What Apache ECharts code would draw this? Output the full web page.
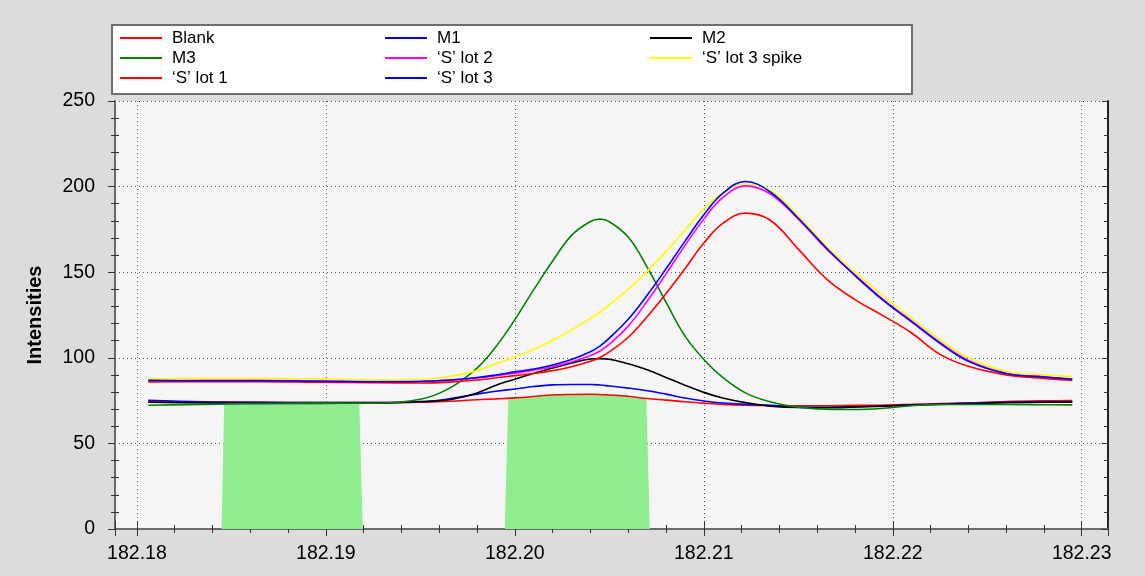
<!DOCTYPE html>
<html>
<head>
<meta charset="utf-8">
<script src="https://cdn.jsdelivr.net/npm/echarts@6/dist/echarts.min.js"></script>
<style>
html,body{margin:0;padding:0;background:#dcdcdc;}
#chart{width:1145px;height:576px;}
</style>
</head>
<body>
<div id="chart"></div>
<script>
// ---- data ----
const masses = [182.1806, 182.1835, 182.1865, 182.1895, 182.1925, 182.1950, 182.1965, 182.1980, 182.1990, 182.2000,
  182.2010, 182.2020, 182.2030, 182.2040, 182.2045, 182.2050, 182.2060, 182.2070, 182.2080, 182.2090,
  182.2100, 182.2110, 182.2122, 182.2135, 182.2150, 182.2165, 182.2180, 182.2195, 182.2210, 182.2225,
  182.2240, 182.2260, 182.2280, 182.2295];

const blank = [74.5,74.2,74,73.8,73.8, 74,74.6,75.5,76,76.6, 77.4,78.3,78.6,78.7,78.6, 78.3,77.5,76.2,75.3,74.3,
  73.5,72.8,72.3,72.1,72, 72,72.2,72.4,72.8,73.3, 73.7,74.5,74.9,75];
const m1 = [75.2,74.3,74,73.8,73.8, 74.3,76,78.8,80.5,81.8, 83.2,84.2,84.4,84.4,84.1, 83.5,82.3,80.8,78.8,76.5,
  74.8,73.6,72.8,72.2,71.2, 71,71.3,71.8,72.5,73, 73.5,74,74.2,74.3];
const m2 = [74,73.6,73.4,73.4,73.5, 74.5,75.5,79.5,84,87.5, 91,94,97,99.3,99.5, 99.2,96.5,93,88.5,84,
  79.8,76.5,73.8,71.8,71, 71,71.3,71.8,72.3,72.8, 73.2,73.8,74,74];
const m3 = [72.3,72.8,73.3,73.5,73.5, 75.8,82,94,106.5,122.3, 139.8,156.5,171.5,179.6,181, 179.5,170.5,153,132.5,112.8,
  99,88.5,79.5,74.3,71.2, 70,69.8,70.5,72,72.7, 72.7,72.7,72.6,72.5];
const sLot2 = [86.7,86.8,86.8,86.5,86.2, 86.3,86.8,88.2,89.5,91, 92.8,94.8,97.5,101.3,104, 108,118.5,133,149,165.5,
  181,193.5,200.4,195.8,181, 163.5,148.5,134,121.5,109, 98.5,91,89,87.6];
const sLot3Spike = [87.7,88,88,87.7,87.2, 87.3,89,92.5,96.5,100.5, 105,110.3,116.3,123,126.6, 131,140,150.5,162,174.5,
  187,196.5,201.5,198,183, 165,150,136,123,110.5, 100,92,90,89];
const sLot1 = [85.9,86,86,85.7,85.5, 85.3,85.8,87,88.3,89.6, 90.8,92.5,94.8,98,100.2, 103.5,112,124,137.5,152,
  167,178.5,184.5,180.5,163.5, 146,134,124.5,114.5,102, 95,90,88,86.7];
const sLot3 = [86.8,86.6,86.6,86.3,86, 86.2,87,88.5,90,91.8, 93.5,95.8,99,103.5,106.8, 111.5,122.5,136.5,152,168,
  183.5,196,203,197,181.5, 164,148,133.5,121,108.5, 98,90.8,88.8,87.5];

// shaded windows (mass, intensity) outlines
const window1 = [[182.18448,0],[182.18462,73.2],[182.19177,73.2],[182.19195,0]];
const window2 = [[182.19947,0],[182.19965,75.6],[182.2010,77.0],[182.2020,78.0],[182.2030,78.4],[182.2040,78.5],
  [182.2050,78.2],[182.2060,77.3],[182.20696,76.2],[182.20714,0]];

const seriesNames = ['Blank','M1','M2','M3','\u2018S\u2019 lot 2','\u2018S\u2019 lot 3 spike','\u2018S\u2019 lot 1','\u2018S\u2019 lot 3'];
const seriesValues = [blank, m1, m2, m3, sLot2, sLot3Spike, sLot1, sLot3];
const seriesColors = ['#ff0000','#0000ff','#000000','#008000','#ff00ff','#ffff00','#ff0000','#0000ff'];

const xMin = 182.17884, xMax = 182.23139;
const yTicks = [0, 50, 100, 150, 200, 250];

// ---- chart ----
const chart = echarts.init(document.getElementById('chart'), null, {renderer: 'canvas'});
const FONT = 'Liberation Sans, Arial, sans-serif';

const lineSeries = seriesNames.map((name, i) => ({
  name: name,
  type: 'line',
  xAxisIndex: 0, yAxisIndex: 0,
  data: masses.map((m, k) => [m, seriesValues[i][k]]),
  symbol: 'none', showSymbol: false,
  smooth: 0.4,
  lineStyle: {color: seriesColors[i], width: 1.6},
  itemStyle: {color: seriesColors[i]},
  z: 3
}));

const areaSeries = {
  name: 'window',
  type: 'line',
  xAxisIndex: 0, yAxisIndex: 0,
  data: window1.concat([[null, null]]).concat(window2).map(p => p[0] === null ? '-' : p),
  symbol: 'none', showSymbol: false,
  lineStyle: {width: 0, opacity: 0},
  areaStyle: {color: '#90ee90', opacity: 1},
  connectNulls: false,
  silent: true,
  z: 2
};

function xAxisBase(extra) {
  return Object.assign({
    type: 'value', min: xMin, max: xMax, splitNumber: 5,
    minInterval: 0.01, maxInterval: 0.01,
    axisLine: {show: false}, axisLabel: {show: false}, axisTick: {show: false},
    minorTick: {show: false}, splitLine: {show: false}
  }, extra);
}
function yAxisBase(extra) {
  return Object.assign({
    type: 'value', min: 0, max: 250, interval: 50,
    axisLine: {show: false}, axisLabel: {show: false}, axisTick: {show: false},
    minorTick: {show: false}, splitLine: {show: false}
  }, extra);
}

const option = {
  backgroundColor: '#dcdcdc',
  animation: false,
  textStyle: {fontFamily: FONT},
  graphic: [{
    type: 'rect', z: 0,
    shape: {x: 112, y: 25, width: 800, height: 69},
    style: {fill: '#ffffff', stroke: '#6e6e6e', lineWidth: 2}
  }],
  legend: [
    {data: [seriesNames[0], seriesNames[3], seriesNames[6]], left: 120, top: 28},
    {data: [seriesNames[1], seriesNames[4], seriesNames[7]], left: 385, top: 28},
    {data: [seriesNames[2], seriesNames[5]], left: 650, top: 28}
  ].map(l => Object.assign(l, {
    orient: 'vertical', padding: 0, itemGap: 0, icon: 'rect', itemWidth: 42, itemHeight: 2,
    selectedMode: false, z: 5,
    textStyle: {fontFamily: FONT, fontSize: 17, color: '#000', lineHeight: 20, padding: [0, 0, 0, 5]}
  })),
  grid: {left: 115, right: 37, top: 101, bottom: 47, show: true, backgroundColor: '#f5f5f5', borderWidth: 0},
  xAxis: [
    xAxisBase({
      position: 'bottom',
      axisLine: {show: true, lineStyle: {color: '#6b6b6b', width: 2}},
      axisTick: {show: true, length: 7, lineStyle: {color: '#333', width: 1}},
      minorTick: {show: true, splitNumber: 5, length: 4, lineStyle: {color: '#333', width: 1}},
      axisLabel: {show: true, showMinLabel: false, showMaxLabel: false, margin: 15, fontFamily: FONT, fontSize: 19.5, color: '#000',
        formatter: v => v.toFixed(2)},
      splitLine: {show: true, lineStyle: {color: '#555', width: 1, type: [1, 3]}}
    }),
    xAxisBase({
      position: 'bottom',
      axisTick: {show: true, inside: true, length: 8, lineStyle: {color: '#333', width: 1}},
      minorTick: {show: true, splitNumber: 5, length: 4, lineStyle: {color: '#333', width: 1}}
    }),
    xAxisBase({
      position: 'top',
      axisLine: {show: true, lineStyle: {color: '#6b6b6b', width: 2}},
      axisTick: {show: true, inside: true, length: 5, lineStyle: {color: '#333', width: 1}},
      minorTick: {show: true, splitNumber: 5, length: 4, lineStyle: {color: '#333', width: 1}}
    })
  ],
  yAxis: [
    yAxisBase({
      position: 'left',
      name: 'Intensities', nameLocation: 'middle', nameRotate: 90, nameGap: 70,
      nameTextStyle: {fontFamily: FONT, fontSize: 20, fontWeight: 'bold', color: '#000'},
      axisLine: {show: true, lineStyle: {color: '#6b6b6b', width: 2}},
      axisTick: {show: true, length: 7, lineStyle: {color: '#333', width: 1}},
      minorTick: {show: true, splitNumber: 5, length: 4, lineStyle: {color: '#333', width: 1}},
      axisLabel: {show: true, margin: 20, fontFamily: FONT, fontSize: 19.5, color: '#000',
        customValues: yTicks},
      splitLine: {show: true, lineStyle: {color: '#555', width: 1, type: [1, 3]}}
    }),
    yAxisBase({
      position: 'left',
      axisTick: {show: false, inside: true, length: 4},
      minorTick: {show: true, splitNumber: 5, length: 4, lineStyle: {color: '#333', width: 1}}
    }),
    yAxisBase({
      position: 'right',
      axisLine: {show: true, lineStyle: {color: '#222', width: 2}},
      axisTick: {show: true, inside: true, length: 6, lineStyle: {color: '#333', width: 1}},
      minorTick: {show: true, splitNumber: 5, length: 4, lineStyle: {color: '#333', width: 1}}
    })
  ],
  series: [areaSeries].concat(lineSeries)
};
chart.setOption(option);
</script>
</body>
</html>
